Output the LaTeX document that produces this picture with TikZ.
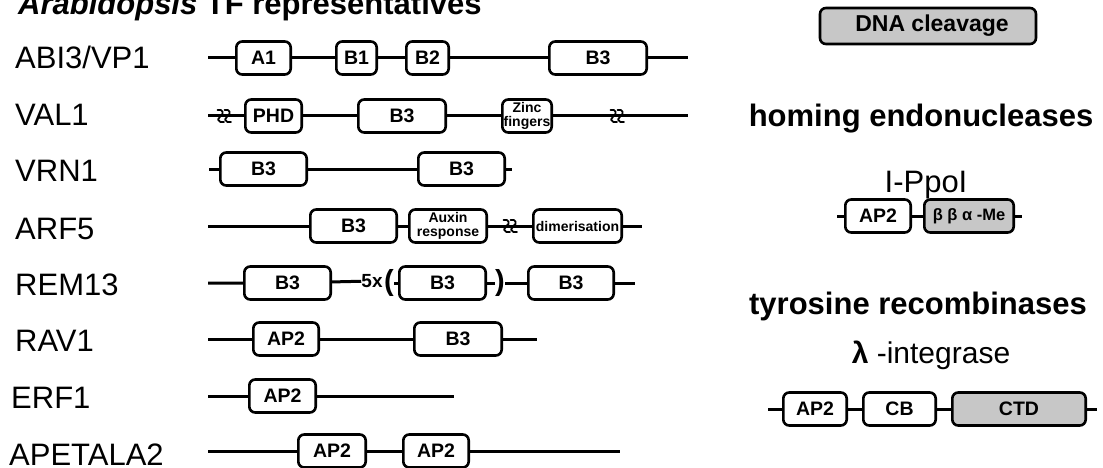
\documentclass[tikz,border=0pt]{standalone}
\usepackage{fontspec}
\setmainfont{Liberation Sans}
\newcommand\Dom[6][]{\node[dom,#1,minimum width={(#4-#3-2.6)*1pt}] (#2) at ({(#3+#4)/2},#5) {#6};}
\newcommand\Brk[1]{\begin{scope}[shift={(#1)}]
  \foreach \dx in {-3.5,3.5}{\draw[line width=1.8pt,line cap=round,line join=round] (\dx-3,-6) .. controls (\dx+2.5,-7.5) and (\dx+4,-2) .. (\dx,0) -- (\dx-2.5,3.5) .. controls (\dx,6.5) .. (\dx+3.5,6);}
\end{scope}}
\begin{document}
\begin{tikzpicture}[x=1pt,y=-1pt,
 bb/.style={line width=3pt},
 dom/.style={draw, line width=2.6pt, rounded corners=6pt, fill=white, minimum height=33pt, inner sep=0pt, align=center, font=\bfseries\fontsize{19.5}{20}\selectfont},
 gdom/.style={dom, fill=black!22},
 tiny/.style={font=\bfseries\fontsize{14}{13.5}\selectfont},
 rowlbl/.style={anchor=base west, inner sep=0pt, font=\fontsize{31}{33}\selectfont},
 head/.style={anchor=base, inner sep=0pt, font=\bfseries\fontsize{31}{33}\selectfont},
 sub/.style={anchor=base, inner sep=0pt, font=\fontsize{31}{33}\selectfont},
]
\useasboundingbox (0,0) rectangle (1103,468);

% title
\node[anchor=base west, inner sep=0pt, font=\bfseries\fontsize{31}{33}\selectfont] (title) at (18,15) {\textit{Arabidopsis} TF representatives};

% row labels
\node[rowlbl] (lABI) at (15,69) {ABI3/VP1};
\node[rowlbl] (lVAL) at (15,126) {VAL1};
\node[rowlbl] (lVRN) at (15,181) {VRN1};
\node[rowlbl] (lARF) at (15,239) {ARF5};
\node[rowlbl] (lREM) at (15,295) {REM13};
\node[rowlbl] (lRAV) at (15,351) {RAV1};
\node[rowlbl] (lERF) at (11,408) {ERF1};
\node[rowlbl] (lAP) at (9,465) {APETALA2};

% ABI3/VP1
\coordinate (abiS) at (208,58); \coordinate (abiE) at (688,58);
\Dom{abiA1}{235}{292}{58}{A1}
\Dom{abiB1}{335}{378}{58}{B1}
\Dom{abiB2}{405}{450}{58}{B2}
\Dom{abiB3}{548}{648}{58}{B3}
\draw[bb] (abiS) -- (abiA1) -- (abiB1) -- (abiB2) -- (abiB3) -- (abiE);

% VAL1
\coordinate (valS) at (208,116); \coordinate (valE) at (688,116);
\coordinate (valK1) at (224,116); \coordinate (valK2) at (617,116);
\Dom{valPHD}{244}{303}{116}{PHD}
\Dom{valB3}{357}{447}{116}{B3}
\Dom[tiny]{valZF}{501}{553}{116}{Zinc\\fingers}
\draw[bb] (valS) -- (valPHD) -- (valB3) -- (valZF) -- (valE);
\Brk{valK1} \Brk{valK2}

% VRN1
\coordinate (vrnS) at (209,169); \coordinate (vrnE) at (512,169);
\Dom{vrnB3a}{219}{308}{169}{B3}
\Dom{vrnB3b}{417}{506}{169}{B3}
\draw[bb] (vrnS) -- (vrnB3a) -- (vrnB3b) -- (vrnE);

% ARF5
\coordinate (arfS) at (208,226); \coordinate (arfE) at (642,226);
\coordinate (arfK) at (510,226);
\Dom{arfB3}{309}{398}{226}{B3}
\Dom[tiny]{arfAux}{408}{488}{226}{Auxin\\response}
\Dom[font=\bfseries\fontsize{14}{14}\selectfont]{arfDim}{532}{623}{226}{dimerisation}
\draw[bb] (arfS) -- (arfB3) -- (arfAux) -- (arfDim) -- (arfE);
\Brk{arfK}

% REM13
\coordinate (remS) at (208,283); \coordinate (remE) at (635,283);
\Dom{remB3a}{243}{332}{283}{B3}
\node[inner sep=0pt, font=\bfseries\fontsize{19}{19}\selectfont] (rem5x) at (372,281) {5x};
\node[inner sep=0pt, font=\bfseries\fontsize{29}{29}\selectfont] (remL) at (389,283) {(};
\Dom{remB3b}{398}{487}{283}{B3}
\node[inner sep=0pt, font=\bfseries\fontsize{29}{29}\selectfont] (remR) at (500,283) {)};
\Dom{remB3c}{527}{615}{283}{B3}
\draw[bb] (remS) -- (remB3a) -- (rem5x);
\draw[bb] (remL) -- (remB3b) -- (remR) -- (remB3c) -- (remE);

% RAV1
\coordinate (ravS) at (208,339); \coordinate (ravE) at (537,339);
\Dom{ravAP2}{252}{320}{339}{AP2}
\Dom{ravB3}{413}{503}{339}{B3}
\draw[bb] (ravS) -- (ravAP2) -- (ravB3) -- (ravE);

% ERF1
\coordinate (erfS) at (208,396); \coordinate (erfE) at (454,396);
\Dom{erfAP2}{248}{317}{396}{AP2}
\draw[bb] (erfS) -- (erfAP2) -- (erfE);

% APETALA2
\coordinate (apS) at (208,451); \coordinate (apE) at (620,451);
\Dom{apAP2a}{297}{367}{451}{AP2}
\Dom{apAP2b}{402}{470}{451}{AP2}
\draw[bb] (apS) -- (apAP2a) -- (apAP2b) -- (apE);

% right side
\node[gdom, minimum width=216pt, minimum height=36pt, font=\bfseries\fontsize{23}{24}\selectfont] (dna) at (928,26) {\hspace{8pt}DNA cleavage};

\node[head] (homing) at (921,127) {homing endonucleases};
\node[sub] (ppoi) at (926,192) {I-PpoI};
\coordinate (ppS) at (837,216); \coordinate (ppE) at (1022,216);
\Dom{ppAP2}{844}{912}{216}{AP2}
\Dom[gdom,font=\bfseries\fontsize{16.5}{17}\selectfont]{ppBBA}{923}{1015}{216}{β β α -Me}
\draw[bb] (ppS) -- (ppAP2) -- (ppBBA) -- (ppE);

\node[head] (tyro) at (918,314) {tyrosine recombinases};
\node[sub, font=\fontsize{30}{32}\selectfont] (lam) at (931,363) {{\bfseries λ} -integrase};
\coordinate (lamS) at (768,409); \coordinate (lamE) at (1097,409);
\Dom{lamAP2}{782}{848}{409}{AP2}
\Dom{lamCB}{862}{937}{409}{CB}
\Dom[gdom]{lamCTD}{951}{1087}{409}{CTD}
\draw[bb] (lamS) -- (lamAP2) -- (lamCB) -- (lamCTD) -- (lamE);
\end{tikzpicture}
\end{document}
